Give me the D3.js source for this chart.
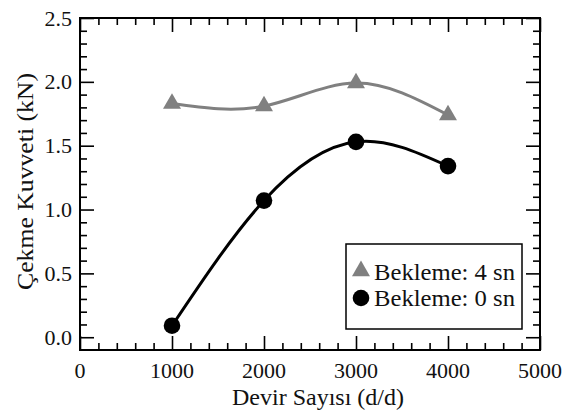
<!DOCTYPE html>
<html><head><meta charset="utf-8">
<script src="https://cdn.jsdelivr.net/npm/d3@7"></script>
<style>
html,body{margin:0;padding:0;background:#fff;}
svg{display:block;}
</style></head>
<body>
<svg id="c" width="563" height="412"></svg>
<script>
const rpm = [1000, 2000, 3000, 4000];
const wait4 = [1.83, 1.81, 1.99, 1.74];
const wait0 = [0.09, 1.07, 1.53, 1.34];
const xMajor = [0, 1000, 2000, 3000, 4000, 5000];
const yMajor = [0.0, 0.5, 1.0, 1.5, 2.0, 2.5];
const seriesNames = ["Bekleme: 4 sn", "Bekleme: 0 sn"];
const xTitle = "Devir Sayısı (d/d)";
const yTitle = "Çekme Kuvveti (kN)";

const FONT = "Liberation Serif";
const svg = d3.select("#c").attr("font-family", FONT);
const L = 80, R = 540, T = 18, B = 350;
const x = d3.scaleLinear().domain([0, 5000]).range([L, R]);
const y = d3.scaleLinear().domain([-0.1, 2.5]).range([B, T]);

const xMinor = d3.range(0, 5001, 200).filter(v => v % 1000 !== 0);
const yMinor = d3.range(1, 25).map(v => v / 10).filter(v => Math.round(v * 10) % 5 !== 0);

function tickAxis(axisFn, scale, vals, size, tx, ty) {
  const g = svg.append("g").attr("transform", `translate(${tx},${ty})`)
    .call(axisFn(scale).tickValues(vals).tickSize(-size).tickFormat(""));
  g.select(".domain").remove();
  g.selectAll("line").attr("stroke", "#000").attr("stroke-width", 1.6);
  g.selectAll("text").remove();
  return g;
}
tickAxis(d3.axisBottom, x, xMajor, 14, 0, B);
tickAxis(d3.axisBottom, x, xMinor, 7, 0, B);
tickAxis(d3.axisTop, x, xMajor, 14, 0, T);
tickAxis(d3.axisTop, x, xMinor, 7, 0, T);
tickAxis(d3.axisLeft, y, yMajor, 14, L, 0);
tickAxis(d3.axisLeft, y, yMinor, 7, L, 0);
tickAxis(d3.axisRight, y, yMajor, 14, R, 0);
tickAxis(d3.axisRight, y, yMinor, 7, R, 0);

svg.append("rect").attr("x", L).attr("y", T).attr("width", R - L).attr("height", B - T)
  .attr("fill", "none").attr("stroke", "#000").attr("stroke-width", 2);

const labels = svg.append("g").attr("font-family", FONT).attr("fill", "#111");

labels.append("g").selectAll("text").data(xMajor).join("text")
  .attr("font-family", FONT)
  .attr("x", d => x(d)).attr("y", 378).attr("text-anchor", "middle")
  .attr("font-size", 22).text(d => String(d));
labels.append("g").selectAll("text").data(yMajor).join("text")
  .attr("font-family", FONT)
  .attr("x", 72).attr("y", d => y(d) + 7.5).attr("text-anchor", "end")
  .attr("font-size", 22).text(d => d.toFixed(1));

labels.append("text").attr("font-family", FONT).attr("x", (L + R) / 2 + 8).attr("y", 405).attr("text-anchor", "middle")
  .attr("font-size", 23).attr("textLength", 172).attr("lengthAdjust", "spacingAndGlyphs").text(xTitle);
labels.append("text").attr("font-family", FONT).attr("transform", "translate(33,181.5) rotate(-90)").attr("text-anchor", "middle")
  .attr("font-size", 23).attr("textLength", 217).attr("lengthAdjust", "spacingAndGlyphs").text(yTitle);

const line = d3.line().x((d, i) => x(rpm[i])).y(d => y(d)).curve(d3.curveNatural);
svg.append("path").attr("d", line(wait4)).attr("fill", "none").attr("stroke", "#808080").attr("stroke-width", 3);
svg.append("path").attr("d", line(wait0)).attr("fill", "none").attr("stroke", "#000").attr("stroke-width", 3);

const tri = d3.symbol().type(d3.symbolTriangle).size(140);
svg.append("g").selectAll("path").data(wait4).join("path")
  .attr("transform", (d, i) => `translate(${x(rpm[i])},${y(d)})`)
  .attr("d", tri()).attr("fill", "#808080");
svg.append("g").selectAll("circle").data(wait0).join("circle")
  .attr("cx", (d, i) => x(rpm[i])).attr("cy", d => y(d)).attr("r", 8.3).attr("fill", "#000");

const lg = svg.append("g").attr("font-family", FONT);
lg.append("rect").attr("x", 346).attr("y", 244).attr("width", 176).attr("height", 85)
  .attr("fill", "#fff").attr("stroke", "#000").attr("stroke-width", 1.5);
lg.append("path").attr("transform", "translate(361,271)").attr("d", tri()).attr("fill", "#808080");
lg.append("circle").attr("cx", 361).attr("cy", 298).attr("r", 8.3).attr("fill", "#000");
lg.append("text").attr("font-family", FONT).attr("fill", "#111").attr("x", 374).attr("y", 280).attr("font-size", 23)
  .attr("textLength", 141).attr("lengthAdjust", "spacingAndGlyphs").text(seriesNames[0]);
lg.append("text").attr("font-family", FONT).attr("fill", "#111").attr("x", 374).attr("y", 306).attr("font-size", 23)
  .attr("textLength", 141).attr("lengthAdjust", "spacingAndGlyphs").text(seriesNames[1]);
</script>
</body></html>
